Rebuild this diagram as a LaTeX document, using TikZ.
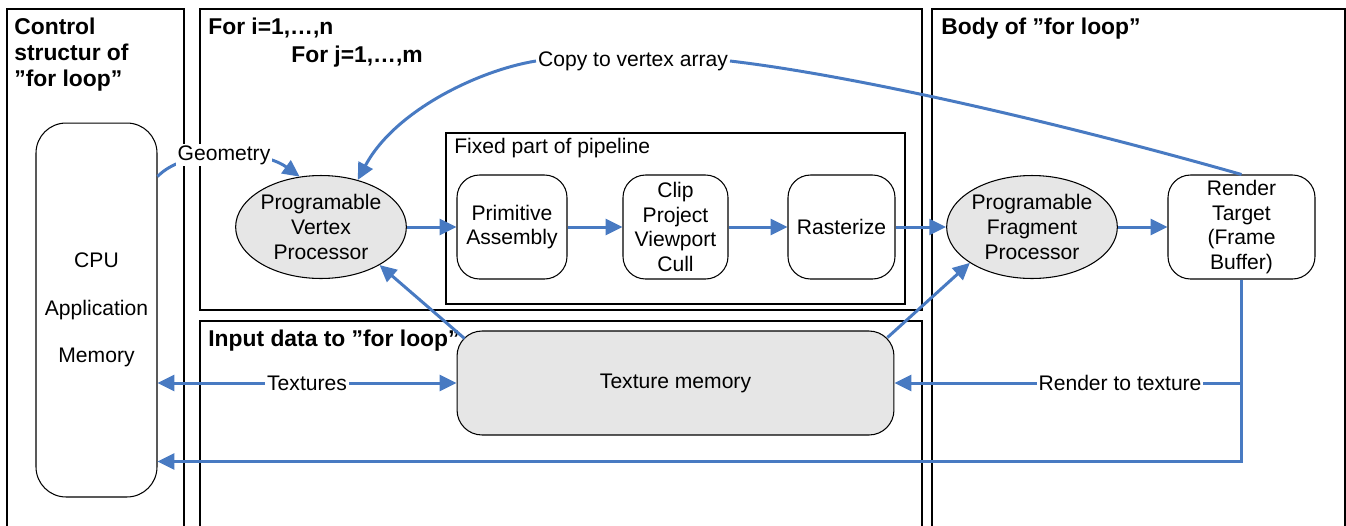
\documentclass[tikz,border=0pt]{standalone}
\usepackage{fontspec}
\setmainfont{Liberation Sans}
\usepackage{tikz}
\usetikzlibrary{arrows.meta,shapes.geometric,calc}
\definecolor{flowblue}{RGB}{72,122,194}
\definecolor{procgray}{RGB}{230,230,230}

\begin{document}
\begin{tikzpicture}[x=0.02cm,y=-0.02cm,
	every node/.style={font=\fontsize{12}{14}\selectfont},
	frame/.style={draw,line width=0.6pt},
	head/.style={anchor=north west,inner sep=0pt,align=left,font=\fontsize{13}{15}\selectfont\bfseries},
	stage/.style={draw,line width=0.6pt,rounded corners=0.45cm,minimum width=2.16cm,minimum height=2.08cm,inner sep=0pt,align=center},
	proc/.style={draw,line width=0.6pt,ellipse,fill=procgray,minimum width=3.22cm,minimum height=2.06cm,inner sep=0pt,align=center},
	flow/.style={draw=flowblue,line width=1.7pt,-{Triangle[length=9.6pt,width=9pt]}},
	tag/.style={fill=white,inner sep=1pt}]
				\useasboundingbox (0,0) rectangle (1346,525);
				\draw [frame] (7,9) rectangle (184,540);
				\draw [frame] (200,9) rectangle (922,310);
				\draw [frame] (446,133) rectangle (905,304);
				\draw [frame] (200,321) rectangle (922,540);
				\draw [frame] (932,9) rectangle (1345,540);
				\node [head] (ctrltitle) at (14,18) {Control\\[-0.2pt]structur of\\[-0.2pt]”for loop”};
				\node [head] (loopi) at (208,18) {For i=1,…,n};
				\node [head] (loopj) at (291,46) {For j=1,…,m};
				\node [head] (bodytitle) at (941,18) {Body of ”for loop”};
				\node [head] (inputtitle) at (208,330) {Input data to ”for loop”};
				\node [anchor=north west,inner sep=0pt] (fixedtitle) at (454,138) {Fixed part of pipeline};
				\node [draw,line width=0.6pt,rounded corners=0.6cm,minimum width=2.42cm,minimum height=7.48cm,inner sep=0pt,align=center] (cpu) at (96.5,310) {CPU\\[13.2pt]Application\\[13.2pt]Memory};
				\node [proc] (vertex) at (321,227) {Programable\\Vertex\\Processor};
				\node [stage,minimum width=2.2cm] (prim) at (512,227) {Primitive\\Assembly};
				\node [stage,minimum width=2.1cm] (clip) at (675.5,227) {Clip\\Project\\Viewport\\Cull};
				\node [stage,minimum width=2.14cm] (raster) at (841.5,227) {Rasterize};
				\node [proc,minimum width=3.2cm] (fragment) at (1032,227) {Programable\\Fragment\\Processor};
				\node [stage,minimum width=2.94cm] (render) at (1241.5,227) {Render\\Target\\(Frame\\Buffer)};
				\node [stage,fill=procgray,rounded corners=0.5cm,minimum width=8.74cm] (texmem) at (675.5,383) {Texture memory};
				\node [tag] (copy) at (633,61) {Copy to vertex array};
				\coordinate (split) at (render.south |- texmem.east);
				\coordinate (back) at ($(cpu.south east)+(0,-36)$);
				\draw [flow] (vertex) -- (prim);
				\draw [flow] (prim) -- (clip);
				\draw [flow] (clip) -- (raster);
				\draw [flow] (raster) -- (fragment);
				\draw [flow] (fragment) -- (render);
				\draw [flow] ($(cpu.north east)+(0,54)$) .. controls (185,148) and (260,148) .. node [tag] {Geometry} (vertex.113);
				\draw [flow] (render.north) .. controls (1050,120) and (850,75) .. (copy.east) (copy.west) .. controls (480,70) and (395,110) .. (vertex.52);
				\draw [flow] ($(texmem.north west)+(8,8)$) -- (vertex.-33);
				\draw [flow] ($(texmem.north east)+(-7,7)$) -- (fragment.-150);
				\draw [flow,{Triangle[length=9.6pt,width=9pt]}-{Triangle[length=9.6pt,width=9pt]}] (cpu.east |- texmem.west) -- node [tag] {Textures} (texmem.west);
				\draw [flow] (split) -- node [tag,pos=0.35] {Render to texture} (texmem.east);
				\draw [flow] (render.south) |- (back);
\end{tikzpicture}
\end{document}
